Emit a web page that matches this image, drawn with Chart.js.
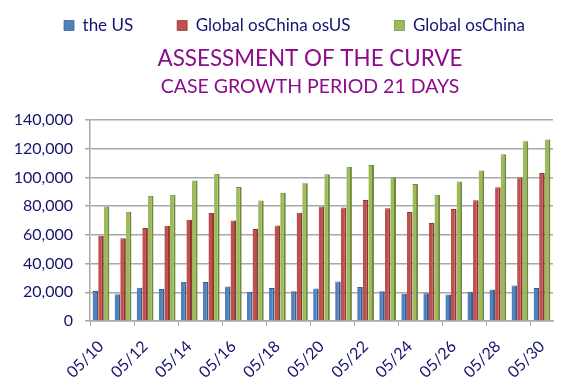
<!DOCTYPE html>
<html>
<head>
<meta charset="utf-8">
<script src="https://cdn.jsdelivr.net/npm/chart.js@4/dist/chart.umd.min.js"></script>
<style>
html,body{margin:0;padding:0;background:#ffffff;}
#wrap{width:580px;height:389px;}
</style>
</head>
<body>
<div id="wrap"><canvas id="c" width="580" height="389"></canvas></div>
<script>
// ---- data ----
const categories = ["05/10","05/11","05/12","05/13","05/14","05/15","05/16","05/17","05/18","05/19","05/20",
                    "05/21","05/22","05/23","05/24","05/25","05/26","05/27","05/28","05/29","05/30"];
const seriesNames = ["the US", "Global osChina osUS", "Global osChina"];
const usValues = [20900,18700,23100,22200,27300,27100,24100,20300,22900,20800,22700,
                  27500,23600,20800,18900,19400,18400,20300,21900,24700,22900];
const globalExChinaExUS = [59300,57700,64700,66300,70500,75200,70000,64000,66500,75400,79800,
                           79000,84300,78500,75900,68200,78000,84100,93200,100000,103000];
const globalExChina = [79800,76100,87300,88000,97800,102500,93300,84000,89400,95900,102200,
                       107500,108700,100200,95500,88000,97200,104900,116100,125200,126400];
const yMin = 0;
const yMax = 140000;
const yStep = 20000;
const titleText = "ASSESSMENT OF THE CURVE";
const subtitleText = "CASE GROWTH PERIOD 21 DAYS";

// ---- styling ----
const FONT = "Lato, 'Open Sans', sans-serif";
const NAVY = "#14146e";
const PURPLE = "#8c0c8c";
const GRID = "#a8a8a8";

const shiftTitles = {
  id: "shiftTitles",
  afterLayout(chart) {
    chart.boxes.forEach(b => {
      if (b instanceof Chart.Title._element) { b.left += 31; }
    });
  }
};

new Chart(document.getElementById("c"), {
  type: "bar",
  data: {
    labels: categories,
    datasets: [
      { label: seriesNames[0], data: usValues, backgroundColor: "#4f81bd", borderColor: "#385d8a",
        borderWidth: {top: 1, right: 2, left: 0, bottom: 0}, borderSkipped: false },
      { label: seriesNames[1], data: globalExChinaExUS, backgroundColor: "#c0504d", borderColor: "#8c3836",
        borderWidth: {top: 1, right: 2, left: 0, bottom: 0}, borderSkipped: false },
      { label: seriesNames[2], data: globalExChina, backgroundColor: "#9bbb59", borderColor: "#71893f",
        borderWidth: {top: 1, right: 2, left: 0, bottom: 0}, borderSkipped: false }
    ]
  },
  options: {
    responsive: false,
    animation: false,
    devicePixelRatio: 1,
    layout: { padding: { top: -27, left: 10, right: 1, bottom: 0 } },
    datasets: { bar: { categoryPercentage: 0.76, barPercentage: 1.0 } },
    plugins: {
      legend: {
        position: "top",
        weight: 3000,
        labels: {
          boxWidth: 10, boxHeight: 10, padding: 44,
          color: NAVY,
          font: { family: FONT, size: 17 }
        }
      },
      title: {
        display: true, text: titleText, color: PURPLE, weight: 2000,
        font: { family: FONT, size: 22.4, weight: "normal" },
        padding: { top: 1, bottom: 0 }
      },
      subtitle: {
        display: true, text: subtitleText, color: PURPLE, weight: 1500,
        font: { family: FONT, size: 19.5, weight: "normal" },
        padding: { top: 3.4, bottom: 21.3 }
      },
      tooltip: { enabled: false }
    },
    scales: {
      x: {
        offset: true,
        afterFit: s => { s.height = 68; },
        grid: {
          display: true, drawOnChartArea: false, drawTicks: true, tickLength: 5, offset: true,
          color: ctx => (ctx.index % 2 === 0 && ctx.index < categories.length) ? GRID : "rgba(0,0,0,0)"
        },
        border: { display: true, color: GRID, width: 1.5 },
        ticks: {
          autoSkip: false, maxRotation: 45, minRotation: 45, padding: 11,
          color: NAVY, font: { family: FONT, size: 16 },
          callback: (v, i) => (i % 2 === 0 ? categories[i] : "")
        }
      },
      y: {
        min: yMin, max: yMax,
        afterFit: s => { s.width = 80; },
        grid: { color: GRID, lineWidth: 1.5, tickLength: 5, drawTicks: true },
        border: { display: true, color: GRID, width: 1.5 },
        ticks: {
          stepSize: yStep, padding: 12, color: NAVY, autoSkip: false,
          font: { family: FONT, size: 16 }
        }
      },
      yRight: {
        type: "linear",
        position: "right",
        display: true,
        afterFit: s => { s.width = 26; },
        grid: { display: false, drawTicks: false },
        border: { display: false },
        ticks: { display: false }
      }
    }
  },
  plugins: [shiftTitles]
});
</script>
</body>
</html>
